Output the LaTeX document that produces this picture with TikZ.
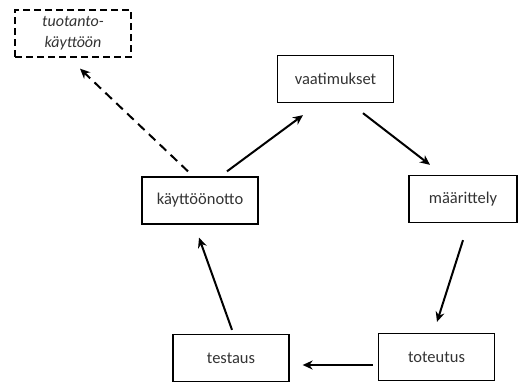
\documentclass[tikz,border=0pt]{standalone}
\usepackage{fontspec}
\setmainfont{Carlito}
\usetikzlibrary{arrows.meta}

\begin{document}
\begin{tikzpicture}[x=1pt, y=-1pt,
        box/.style={draw, line width=1.3pt, minimum width=116pt, minimum height=47pt, font=\fontsize{16.5}{19}\selectfont, text=black!80},
        dashbox/.style={box, dashed, dash pattern=on 7pt off 4pt},
        arr/.style={line width=2pt, -{Stealth[length=10pt, width=9pt]}}]
            \useasboundingbox (0,0) rectangle (519,383);
            \node[dashbox, align=center, font=\fontsize{16}{21}\selectfont\itshape] (tuo) at (73,33.5) {tuotanto-\\käyttöön};
            \node[box] (vaa) at (335.5,79) {vaatimukset};
            \node[box, minimum width=108pt] (maa) at (463,199) {määrittely};
            \node[box] (kay) at (200,200.5) {käyttöönotto};
            \node[box] (tes) at (231,358) {testaus};
            \node[box] (tot) at (436.5,357) {toteutus};
            \draw[arr] ([xshift=27pt, yshift=5pt]kay.north) -- ([xshift=-32.5pt, yshift=-12pt]vaa.south);
            \draw[arr] ([xshift=27.5pt, yshift=-10pt]vaa.south) -- ([xshift=-33pt, yshift=10pt]maa.north);
            \draw[arr] ([yshift=-17pt]maa.south) -- ([xshift=0.5pt, yshift=11pt]tot.north);
            \draw[arr] ([xshift=-5pt, yshift=-8pt]tot.west) -- ([xshift=13pt, yshift=-7pt]tes.east);
            \draw[arr] ([xshift=1pt, yshift=4pt]tes.north) -- ([xshift=-1pt, yshift=-13pt]kay.south);
            \draw[arr, dashed, dash pattern=on 9pt off 6pt] ([xshift=-12pt, yshift=5pt]kay.north) -- ([xshift=7pt, yshift=-11pt]tuo.south);
        \end{tikzpicture}
\end{document}
